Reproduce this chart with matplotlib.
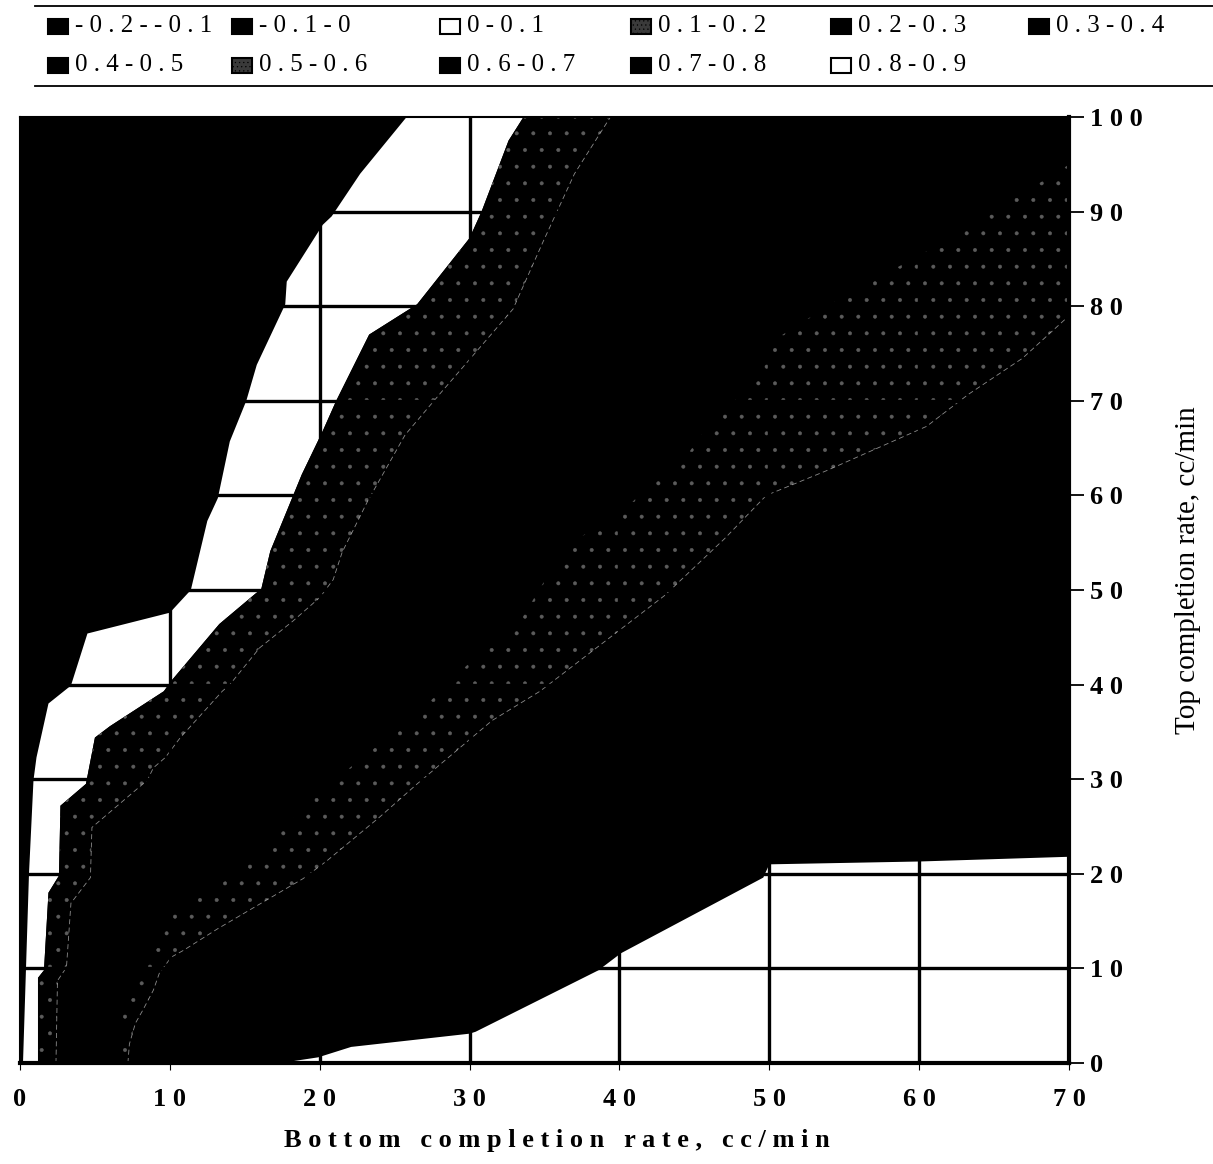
import matplotlib
matplotlib.use("Agg")
import matplotlib.pyplot as plt
from matplotlib.patches import Rectangle
from matplotlib.lines import Line2D

plt.rcParams['font.family'] = ['Liberation Serif', 'DejaVu Serif']
plt.rcParams['hatch.linewidth'] = 0.4

# ---------------- data ----------------
band_labels = ['-0.2--0.1', '-0.1-0', '0-0.1', '0.1-0.2', '0.2-0.3', '0.3-0.4',
               '0.4-0.5', '0.5-0.6', '0.6-0.7', '0.7-0.8', '0.8-0.9']
band_fill = ['black', 'black', 'white', 'speckle', 'black', 'black',
             'black', 'speckle', 'black', 'black', 'white']

# contour line z = 0.0 (bottom -> top)
z00_x = [0.2, 0.4, 0.6, 0.9, 1.1, 1.9, 3.4, 4.5, 10.0, 11.4, 12.5, 13.2, 14.0,
         15.1, 15.8, 17.7, 17.8, 20.2, 20.8, 22.7, 25.8]
z00_y = [0.0, 10.0, 20.0, 29.9, 32.3, 38.0, 39.9, 45.4, 47.6, 50.0, 57.3, 59.7, 65.7,
         70.0, 73.8, 80.2, 82.6, 88.6, 89.5, 94.0, 100.0]

# contour line z = 0.1
z01_x = [1.2, 1.2, 1.6, 1.9, 2.6, 2.7, 4.4, 5.0, 6.0, 9.6, 10.1, 13.3, 15.7, 16.1,
         16.7, 18.8, 20.2, 21.1, 23.3, 26.5, 30.0, 30.8, 32.6, 33.6]
z01_y = [0.0, 9.0, 9.8, 18.0, 19.8, 27.2, 29.5, 34.4, 35.6, 39.3, 40.4, 46.4, 49.6, 50.1,
         54.1, 62.2, 66.8, 70.0, 77.0, 80.2, 87.2, 90.0, 97.5, 100.0]

# contour line z = 0.2
z02_x = [2.4, 2.5, 3.1, 3.4, 4.7, 4.8, 8.5, 8.9, 9.7, 10.7, 13.5, 14.0, 16.0, 18.2,
         20.0, 20.9, 21.5, 23.2, 25.7, 28.0, 32.9, 34.9, 37.0, 39.4]
z02_y = [0.0, 8.7, 10.1, 16.9, 19.6, 24.9, 29.9, 31.2, 32.3, 34.4, 39.3, 40.0, 43.9, 46.7,
         49.2, 51.1, 54.0, 59.4, 66.4, 70.7, 79.7, 86.8, 94.0, 100.0]

# contour line z = 0.5
z05_x = [6.4, 6.8, 7.6, 8.5, 9.5, 10.9, 13.3, 15.8, 19.8, 22.0, 26.5, 29.8, 33.3, 36.5,
         39.8, 41.8, 44.2, 46.0, 48.5, 49.8, 54.7, 60.5, 64.2, 69.3, 70.0]
z05_y = [0.0, 5.0, 9.0, 12.5, 14.8, 16.5, 18.8, 21.7, 28.5, 31.2, 36.9, 42.0, 46.5, 54.9,
         57.6, 60.8, 63.6, 67.5, 71.3, 75.9, 80.8, 85.8, 89.5, 94.2, 95.0]

# contour line z = 0.6
z06_x = [7.2, 7.3, 7.7, 8.2, 8.9, 9.3, 10.1, 10.9, 13.2, 18.9, 20.5, 24.0, 26.5, 31.5,
         34.7, 43.0, 47.0, 49.8, 53.8, 60.5, 63.3, 66.9, 69.8, 70.0]
z06_y = [0.0, 2.0, 4.2, 5.6, 7.7, 9.5, 11.2, 11.9, 14.2, 19.5, 21.4, 26.0, 29.5, 36.2,
         39.3, 49.4, 55.4, 60.0, 62.6, 67.3, 70.7, 74.5, 78.7, 79.0]

# contour line z = 0.8 (left -> right)
z08_x = [17.4, 19.9, 22.1, 30.0, 30.4, 38.6, 40.1, 49.6, 50.0, 60.0, 70.0]
z08_y = [0.0, 0.6, 1.7, 3.1, 3.3, 9.8, 11.6, 19.6, 21.0, 21.3, 21.8]

x_ticks = [0, 10, 20, 30, 40, 50, 60, 70]
x_tick_labels = ['0', '1 0', '2 0', '3 0', '4 0', '5 0', '6 0', '7 0']
y_ticks = [0, 10, 20, 30, 40, 50, 60, 70, 80, 90, 100]
y_tick_labels = ['0', '1 0', '2 0', '3 0', '4 0', '5 0', '6 0', '7 0', '8 0', '9 0', '1 0 0']

x_label = 'B o t t o m   c o m p l e t i o n   r a t e ,   c c / m i n'
y_label = 'Top completion rate, cc/min'

# ---------------- figure ----------------
W, H = 1213, 1164
fig = plt.figure(figsize=(W / 100, H / 100), dpi=100)
fig.patch.set_facecolor('white')

left_px, right_px, top_px, bot_px = 20, 1069, 117, 1063
ax = fig.add_axes([left_px / W, 1 - bot_px / H, (right_px - left_px) / W, (bot_px - top_px) / H])
ax.set_facecolor('black')
ax.set_xlim(0, 70)
ax.set_ylim(0, 100)


def band(xa, ya, xb, yb):
    return list(xa) + list(xb)[::-1], list(ya) + list(yb)[::-1]


def style(kind):
    if kind == 'white':
        return dict(facecolor='white', edgecolor='white', linewidth=0)
    if kind == 'speckle':
        return dict(facecolor='black', edgecolor='#5c5c5c', linewidth=0, hatch='.')
    return dict(facecolor='black', edgecolor='black', linewidth=0)


# 0 - 0.1
bx, by = band(z00_x, z00_y, z01_x, z01_y)
ax.fill(bx, by, zorder=1, **style(band_fill[2]))
# 0.1 - 0.2
bx, by = band(z01_x, z01_y, z02_x, z02_y)
ax.fill(bx, by, zorder=1, **style(band_fill[3]))
# 0.5 - 0.6
bx, by = band(z05_x, z05_y, z06_x, z06_y)
ax.fill(bx, by, zorder=1, **style(band_fill[7]))
# 0.8 - 0.9 (bottom-right corner)
ax.fill(z08_x + [70.0], z08_y + [0.0], zorder=1, **style(band_fill[10]))

# faint contour edges visible in the picture
ax.plot(z02_x, z02_y, color='white', lw=0.6, ls=(0, (6, 4)), alpha=0.55, zorder=1.5)
ax.plot(z06_x, z06_y, color='white', lw=0.6, ls=(0, (6, 4)), alpha=0.55, zorder=1.5)

# grid
for gx in x_ticks[1:-1]:
    ax.axvline(gx, color='black', lw=2.4, zorder=2)
for gy in y_ticks[1:-1]:
    ax.axhline(gy, color='black', lw=2.4, zorder=2)

for side in ['left', 'top']:
    ax.spines[side].set_linewidth(1.5)
for side in ['right', 'bottom']:
    ax.spines[side].set_linewidth(3.0)

ax.set_xticks(x_ticks)
ax.set_xticklabels(x_tick_labels, fontsize=19, fontweight='bold')
ax.set_yticks(y_ticks)
ax.set_yticklabels(y_tick_labels, fontsize=19, fontweight='bold')
ax.yaxis.tick_right()
ax.tick_params(axis='y', direction='out', length=11, width=1.3, pad=4)
ax.tick_params(axis='x', direction='out', length=5, width=0.8, pad=13)

fig.text(557 / W, 1 - 1140 / H, x_label, ha='center', va='center', fontsize=19,
         fontweight='bold')
fig.text(1188 / W, 1 - 570 / H, y_label, ha='center', va='center', rotation=90, fontsize=21)

# ---------------- legend (two rows between rules) ----------------
col_px = [48, 232, 440, 631, 831, 1029]
row_py = [26, 65]
sw_w, sw_h = 20, 15
for i, (lab, kind) in enumerate(zip(band_labels, band_fill)):
    r, c = divmod(i, 6)
    x0 = col_px[c]
    yc = row_py[r]
    if kind == 'white':
        fc, ec, hatch = 'white', 'black', None
    elif kind == 'speckle':
        fc, ec, hatch = '#3a3a3a', 'black', '....'
    else:
        fc, ec, hatch = 'black', 'black', None
    rect = Rectangle((x0 / W, 1 - (yc + sw_h / 2) / H), sw_w / W, sw_h / H,
                     transform=fig.transFigure, facecolor=fc, edgecolor=ec,
                     linewidth=1.5, hatch=hatch)
    fig.add_artist(rect)
    fig.text((x0 + sw_w + 7) / W, 1 - yc / H, ' '.join(lab), ha='left', va='center',
             fontsize=18)

for ry in [6, 86]:
    fig.add_artist(Line2D([35 / W, 1.0], [1 - ry / H, 1 - ry / H], transform=fig.transFigure,
                          color='black', lw=1.3))

fig.savefig('out.png', dpi=100, facecolor='white')
